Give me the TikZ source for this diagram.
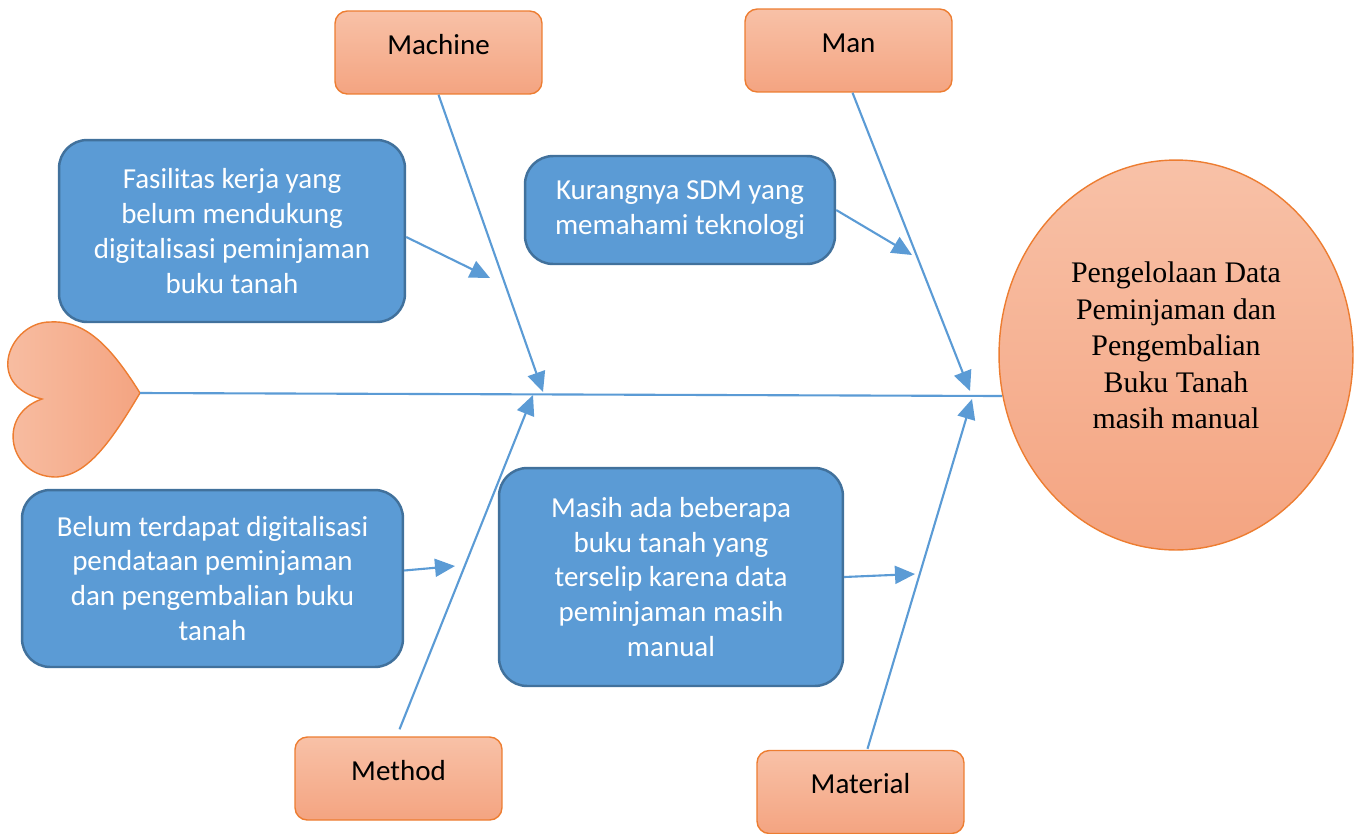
\documentclass[tikz,border=0pt]{standalone}
\usepackage{fontspec}
\setmainfont{Carlito}
\newfontfamily\seriffont{Liberation Serif}
\usepackage{xcolor}
\definecolor{BoneBlue}{HTML}{5B9BD5}
\definecolor{BoxBlue}{HTML}{5B9BD5}
\definecolor{EdgeBlue}{HTML}{41719C}
\definecolor{EdgeOrange}{HTML}{ED7D31}
\definecolor{LightPeach}{HTML}{F8C1A7}
\definecolor{DarkPeach}{HTML}{F4A481}
\usetikzlibrary{arrows.meta,shapes.geometric,positioning,calc}

\begin{document}
\begin{tikzpicture}[
  x=0.02cm, y=-0.02cm,
  catbox/.style={rectangle, rounded corners=7pt, draw=EdgeOrange, line width=0.8pt,
              top color=LightPeach, bottom color=DarkPeach,
              minimum width=4.14cm, minimum height=1.66cm,
              text height=11pt, text depth=9pt,
              font=\fontsize{16.5}{19.9}\selectfont},
  causebox/.style={rectangle, rounded corners=16pt, draw=EdgeBlue, line width=1.4pt,
              fill=BoxBlue, text=white, align=center, inner sep=2pt,
              font=\fontsize{16.5}{19.9}\selectfont},
  effect/.style={ellipse, draw=EdgeOrange, line width=0.8pt,
              top color=LightPeach, bottom color=DarkPeach,
              minimum width=7.08cm, minimum height=7.8cm, align=center,
              text depth=11pt,
              font=\seriffont\fontsize{17}{20.8}\selectfont},
  bone/.style={line width=1.2pt, color=BoneBlue},
  arr/.style={-{Triangle[length=0.4cm,width=0.36cm]}, line width=1.2pt, color=BoneBlue}
]
  \useasboundingbox (0,0) rectangle (1356,833);

  % head and tail
  \node[effect] (effect) at (1176,355) {Pengelolaan Data\\Peminjaman dan\\Pengembalian\\Buku Tanah\\masih manual};
  \draw[EdgeOrange, line width=0.8pt, left color=LightPeach, right color=DarkPeach]
    (140,393) .. controls (110,345) and (85,320) .. (50,322)
    .. controls (10,322) and (-17,385) .. (42,399)
    .. controls (-5,415) and (9,478) .. (57,477)
    .. controls (88,475) and (112,440) .. (140,393) -- cycle;
  \coordinate (tail) at (140,393);
  \coordinate (head) at (1002,396);

  % categories
  \node[catbox] (machine) at (438.5,52.5) {Machine};
  \node[catbox] (man) at (848.5,50.5) {Man};
  \node[catbox] (method) at (398.5,778.5) {Method};
  \node[catbox] (material) at (860.5,792) {Material};

  % causes
  \node[causebox, minimum width=6.92cm, minimum height=3.64cm] (fasilitas) at (232,231)
    {Fasilitas kerja yang\\belum mendukung\\digitalisasi peminjaman\\buku tanah};
  \node[causebox, minimum width=6.2cm, minimum height=2.16cm] (sdm) at (680,210)
    {Kurangnya SDM yang\\memahami teknologi};
  \node[causebox, minimum width=7.62cm, minimum height=3.54cm] (pendataan) at (212.5,578.5)
    {Belum terdapat digitalisasi\\pendataan peminjaman\\dan pengembalian buku\\tanah};
  \node[causebox, minimum width=6.88cm, minimum height=4.36cm] (terselip) at (671,577)
    {Masih ada beberapa\\buku tanah yang\\terselip karena data\\peminjaman masih\\manual};

  % spine and bones
  \coordinate (j1) at (543,392);
  \coordinate (j2) at (533,395);
  \coordinate (j3) at (970,391);
  \coordinate (j4) at (972,399);
  \draw[bone] (tail) -- (head);
  \draw[arr] (machine.south) -- (j1);
  \draw[arr] ($(man.south)+(4,0)$) -- (j3);
  \draw[arr] ($(method.north)+(1,-7)$) -- (j2);
  \draw[arr] ($(material.north)+(7,-1)$) -- (j4);

  % cause arrows
  \coordinate (k1) at (490,278);
  \coordinate (k2) at (912,255);
  \coordinate (k3) at (455,566);
  \coordinate (k4) at (915,574);
  \draw[arr] ($(fasilitas.east)+(0,6)$) -- (k1);
  \draw[arr] (sdm.east) -- (k2);
  \draw[arr] ($(pendataan.east)+(0,-8)$) -- (k3);
  \draw[arr] (terselip.east) -- (k4);
\end{tikzpicture}
\end{document}
